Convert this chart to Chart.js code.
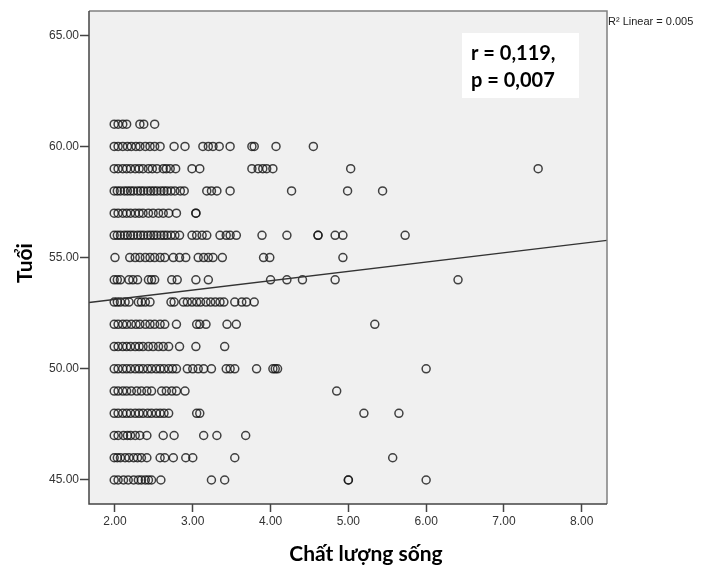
<!DOCTYPE html>
<html>
<head>
<meta charset="utf-8">
<script src="https://cdn.jsdelivr.net/npm/chart.js@4.4.1/dist/chart.umd.min.js"></script>
<style>
  html, body { margin: 0; padding: 0; background: #ffffff; }
  #wrap { width: 720px; height: 568px; }
</style>
</head>
<body>
<div id="wrap"><canvas id="scatter" width="720" height="568"></canvas></div>
<script>
// values: quality-of-life score (x) for each age row (y)
const ages = [61, 60, 59, 58, 57, 56, 55, 54, 53, 52, 51, 50, 49, 48, 47, 46, 45];

const qol61 = [1.99, 2.04, 2.10, 2.15, 2.32, 2.37, 2.51];
const qol60 = [1.99, 2.04, 2.10, 2.16, 2.21, 2.27, 2.32, 2.39, 2.45, 2.51, 2.58, 2.76, 2.90, 3.13, 3.20, 3.26, 3.34, 3.48, 3.76, 3.79, 4.07, 4.55];
const qol59 = [1.99, 2.04, 2.10, 2.15, 2.20, 2.26, 2.31, 2.36, 2.43, 2.48, 2.54, 2.62, 2.66, 2.71, 2.78, 2.99, 3.09, 3.76, 3.84, 3.90, 3.95, 4.03, 5.03, 7.44];
const qol58 = [1.99, 2.03, 2.07, 2.12, 2.16, 2.20, 2.24, 2.29, 2.33, 2.37, 2.42, 2.46, 2.50, 2.54, 2.59, 2.63, 2.67, 2.72, 2.77, 2.84, 2.89, 3.18, 3.24, 3.31, 3.48, 4.27, 4.99, 5.44];
const qol57 = [1.99, 2.04, 2.10, 2.15, 2.20, 2.26, 2.31, 2.36, 2.43, 2.49, 2.56, 2.62, 2.69, 2.79, 3.04, 3.04];
const qol56 = [1.99, 2.03, 2.07, 2.12, 2.16, 2.20, 2.24, 2.29, 2.33, 2.37, 2.42, 2.46, 2.50, 2.54, 2.59, 2.63, 2.67, 2.72, 2.77, 2.83, 2.99, 3.05, 3.12, 3.18, 3.35, 3.43, 3.48, 3.56, 3.89, 4.21, 4.61, 4.61, 4.83, 4.93, 5.73];
const qol55 = [2.00, 2.19, 2.26, 2.32, 2.39, 2.45, 2.51, 2.58, 2.64, 2.75, 2.83, 2.91, 3.07, 3.14, 3.20, 3.26, 3.38, 3.91, 3.99, 4.93];
const qol54 = [1.99, 2.03, 2.07, 2.18, 2.23, 2.29, 2.43, 2.47, 2.51, 2.73, 2.80, 3.04, 3.20, 4.00, 4.21, 4.41, 4.83, 6.41];
const qol53 = [1.99, 2.03, 2.07, 2.13, 2.18, 2.30, 2.34, 2.39, 2.45, 2.72, 2.76, 2.88, 2.93, 2.99, 3.05, 3.10, 3.17, 3.23, 3.29, 3.35, 3.40, 3.54, 3.63, 3.69, 3.79];
const qol52 = [1.99, 2.04, 2.10, 2.15, 2.21, 2.27, 2.32, 2.39, 2.45, 2.51, 2.58, 2.64, 2.79, 3.05, 3.09, 3.17, 3.44, 3.56, 5.34];
const qol51 = [1.99, 2.04, 2.10, 2.15, 2.20, 2.26, 2.31, 2.36, 2.43, 2.49, 2.56, 2.62, 2.69, 2.83, 3.04, 3.41];
const qol50 = [1.99, 2.04, 2.10, 2.15, 2.20, 2.26, 2.31, 2.36, 2.42, 2.47, 2.53, 2.58, 2.63, 2.69, 2.74, 2.79, 2.93, 3.00, 3.07, 3.14, 3.24, 3.43, 3.48, 3.54, 3.82, 4.03, 4.06, 4.09, 6.00];
const qol49 = [1.99, 2.04, 2.10, 2.15, 2.21, 2.28, 2.34, 2.41, 2.47, 2.60, 2.66, 2.73, 2.79, 2.90, 4.85];
const qol48 = [1.99, 2.04, 2.10, 2.15, 2.20, 2.26, 2.31, 2.36, 2.42, 2.47, 2.53, 2.58, 2.63, 2.69, 3.05, 3.09, 5.20, 5.65];
const qol47 = [1.99, 2.04, 2.11, 2.16, 2.20, 2.26, 2.32, 2.41, 2.62, 2.76, 3.14, 3.31, 3.68];
const qol46 = [1.99, 2.03, 2.07, 2.13, 2.18, 2.24, 2.29, 2.34, 2.41, 2.58, 2.64, 2.75, 2.91, 3.00, 3.54, 5.57];
const qol45 = [1.99, 2.04, 2.11, 2.17, 2.24, 2.30, 2.34, 2.39, 2.43, 2.47, 2.59, 3.24, 3.41, 5.00, 5.00, 6.00];

const qolRows = [qol61, qol60, qol59, qol58, qol57, qol56, qol55, qol54, qol53, qol52, qol51, qol50, qol49, qol48, qol47, qol46, qol45];

// tick labels
const xTicks = [2, 3, 4, 5, 6, 7, 8];
const yTicks = [45, 50, 55, 60, 65];

// fit line
const fitIntercept = 52.28;
const fitSlope = 0.42;

// axis ranges
const xMin = 1.666, xMax = 8.325;
const yMin = 43.92, yMax = 66.09;

const points = [];
ages.forEach((age, i) => {
    qolRows[i].forEach(q => points.push({ x: q, y: age }));
});

const fitLine = [xMin, xMax].map(x => ({ x: x, y: fitIntercept + fitSlope * x }));

// plot background, frame and extra text
const decorPlugin = {
    id: 'decor',
    beforeDatasetsDraw(chart) {
        const { ctx, chartArea: a } = chart;
        ctx.save();
        ctx.fillStyle = '#f0f0f0';
        ctx.fillRect(a.left, a.top, a.right - a.left, a.bottom - a.top);
        ctx.restore();
    },
    afterDraw(chart) {
        const { ctx, chartArea: a } = chart;
        ctx.save();
        // frame
        ctx.strokeStyle = '#808080';
        ctx.lineWidth = 1.5;
        ctx.beginPath();
        ctx.moveTo(a.left, a.top);
        ctx.lineTo(a.right, a.top);
        ctx.lineTo(a.right, a.bottom);
        ctx.stroke();
        ctx.strokeStyle = '#444444';
        ctx.beginPath();
        ctx.moveTo(a.left, a.top);
        ctx.lineTo(a.left, a.bottom);
        ctx.lineTo(a.right, a.bottom);
        ctx.stroke();

        // r / p box
        ctx.fillStyle = '#ffffff';
        ctx.fillRect(462, 33, 117, 65);
        ctx.fillStyle = '#000000';
        ctx.font = 'bold 20px Lato';
        ctx.textAlign = 'left';
        ctx.textBaseline = 'alphabetic';
        ctx.fillText('r = 0,119,', 471, 60);
        ctx.fillText('p = 0,007', 471, 87);

        // R2 label
        ctx.fillStyle = '#222222';
        ctx.font = '11px "Liberation Sans"';
        ctx.textBaseline = 'middle';
        ctx.fillText('R\u00b2 Linear = 0.005', 608, 22);

        // axis titles
        ctx.fillStyle = '#000000';
        ctx.font = 'bold 21px Lato';
        ctx.textAlign = 'center';
        ctx.fillText('Chất lượng sống', 366, 554);
        ctx.translate(25, 263);
        ctx.rotate(-Math.PI / 2);
        ctx.fillText('Tuổi', 0, 0);
        ctx.restore();
    }
};

new Chart(document.getElementById('scatter').getContext('2d'), {
    type: 'scatter',
    data: {
        datasets: [{
            label: 'Tuổi',
            data: points,
            pointRadius: 4,
            pointBorderWidth: 1.5,
            borderColor: 'rgba(20,20,20,0.8)',
            backgroundColor: 'rgba(0,0,0,0)',
            order: 2
        }, {
            type: 'line',
            label: 'Linear',
            data: fitLine,
            borderColor: '#333333',
            borderWidth: 1.4,
            pointRadius: 0,
            fill: false,
            order: 1
        }]
    },
    plugins: [decorPlugin],
    options: {
        responsive: false,
        animation: false,
        layout: { padding: { top: 11, right: 113, left: 0, bottom: 0 } },
        plugins: {
            legend: { display: false },
            tooltip: { enabled: false }
        },
        scales: {
            x: {
                type: 'linear',
                min: xMin,
                max: xMax,
                afterBuildTicks: scale => { scale.ticks = xTicks.map(v => ({ value: v })); },
                afterFit: scale => { scale.height = 64; },
                grid: { drawOnChartArea: false, drawTicks: true, tickLength: 8, color: '#444444', tickWidth: 1.5 },
                border: { display: false },
                ticks: {
                    color: '#333333',
                    font: { family: 'Liberation Sans', size: 12 },
                    padding: 2,
                    maxRotation: 0,
                    callback: v => v.toFixed(2)
                }
            },
            y: {
                type: 'linear',
                min: yMin,
                max: yMax,
                afterBuildTicks: scale => { scale.ticks = yTicks.map(v => ({ value: v })); },
                afterFit: scale => { scale.width = 89; },
                grid: { drawOnChartArea: false, drawTicks: true, tickLength: 9, color: '#444444', tickWidth: 1.5 },
                border: { display: false },
                ticks: {
                    color: '#333333',
                    font: { family: 'Liberation Sans', size: 12 },
                    padding: 1,
                    callback: v => v.toFixed(2)
                }
            }
        }
    }
});
</script>
</body>
</html>
